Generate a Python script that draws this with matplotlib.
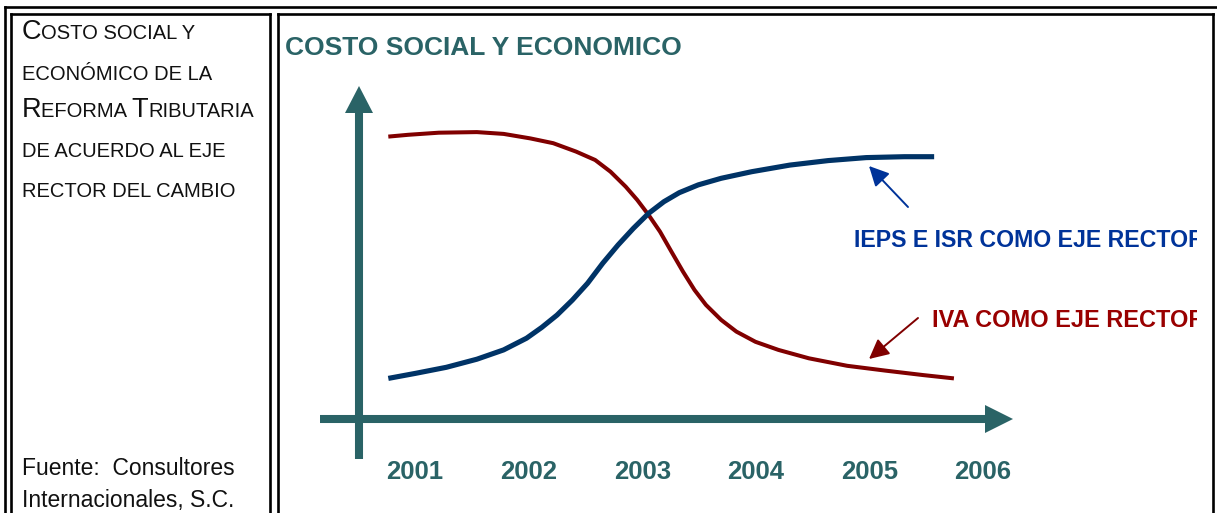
import matplotlib
matplotlib.use('Agg')
import matplotlib.pyplot as plt
from matplotlib.patches import Polygon
from matplotlib import font_manager

# ---------------- data ----------------
years = [2001, 2002, 2003, 2004, 2005, 2006]
year_labels = ['2001', '2002', '2003', '2004', '2005', '2006']

# IEPS e ISR como eje rector (rising curve), index values
ieps_x = [2000.765, 2001.007, 2001.276, 2001.545, 2001.780, 2001.982, 2002.116, 2002.250,
          2002.385, 2002.519, 2002.653, 2002.788, 2002.922, 2003.056, 2003.191, 2003.326,
          2003.493, 2003.695, 2003.964, 2004.299, 2004.636, 2004.972, 2005.308, 2005.570]
ieps_y = [13.2, 14.9, 16.9, 19.6, 22.7, 26.6, 30.2, 34.3,
          39.3, 44.9, 51.6, 57.7, 63.2, 68.2, 72.1, 75.1,
          77.7, 79.9, 82.1, 84.3, 85.8, 86.8, 87.1, 87.1]

# IVA como eje rector (falling curve)
iva_x = [2000.765, 2000.940, 2001.209, 2001.545, 2001.780, 2002.015, 2002.217, 2002.418,
         2002.586, 2002.721, 2002.855, 2002.956, 2003.056, 2003.157, 2003.258, 2003.359,
         2003.460, 2003.561, 2003.695, 2003.829, 2003.997, 2004.199, 2004.467, 2004.804,
         2005.140, 2005.475, 2005.744]
iva_y = [93.8, 94.4, 95.1, 95.3, 94.7, 93.2, 91.6, 88.8,
         86.0, 82.1, 77.1, 72.7, 67.7, 62.1, 55.4, 48.8,
         42.7, 37.7, 32.7, 28.8, 25.4, 22.7, 19.9, 17.4,
         15.8, 14.3, 13.2]

title = 'COSTO SOCIAL Y ECONOMICO'
label_ieps = 'IEPS E ISR COMO EJE RECTOR'
label_iva = 'IVA COMO EJE RECTOR'

side_lines = [
    [('C', 'big'), ('OSTO SOCIAL Y', 'small')],
    [('ECONÓMICO DE LA', 'small')],
    [('R', 'big'), ('EFORMA ', 'small'), ('T', 'big'), ('RIBUTARIA', 'small')],
    [('DE ACUERDO AL EJE', 'small')],
    [('RECTOR DEL CAMBIO', 'small')],
]
source_lines = ['Fuente:  Consultores', 'Internacionales, S.C.']

# ---------------- style ----------------
TEAL = '#2A6366'
NAVY = '#003366'
MAROON = '#800000'
BLUE_TXT = '#003399'
RED_TXT = '#990000'

available = {f.name for f in font_manager.fontManager.ttflist}
HAS_NARROW = 'Liberation Sans Narrow' in available
NARROW = ['Liberation Sans Narrow', 'Liberation Sans', 'DejaVu Sans'] if HAS_NARROW else ['Liberation Sans', 'DejaVu Sans']
SANS = ['Liberation Sans', 'DejaVu Sans']
SMALL = 16.5 if HAS_NARROW else 14.5
BIG = 21 if HAS_NARROW else 19.5

W, H = 1217, 513
DPI = 100
fig = plt.figure(figsize=(W / DPI, H / DPI), dpi=DPI)
fig.patch.set_facecolor('white')

# pixel overlay axes for frame/decoration
pax = fig.add_axes([0, 0, 1, 1])
pax.set_xlim(0, W)
pax.set_ylim(H, 0)
pax.axis('off')

# data axes
ax = fig.add_axes([0, 0, 1, 1])
ax.set_xlim(1997.3468, 2008.0599)
ax.set_ylim(-31.667, 139.333)
ax.axis('off')
ax.patch.set_alpha(0)

# clipping axes for the right-hand labels (text cut at the panel edge)
lax = fig.add_axes([0, 0, 1197 / W, 1])
lax.set_xlim(0, 1197)
lax.set_ylim(H, 0)
lax.axis('off')
lax.patch.set_alpha(0)

# ---------------- frame (double borders) ----------------
blw = 1.9
def seg(x0, y0, x1, y1):
    pax.plot([x0, x1], [y0, y1], color='black', lw=blw, solid_capstyle='projecting')

seg(5, 6.5, W + 5, 6.5)          # outer top
seg(5, 6.5, 5, H + 5)            # outer left
seg(10.5, 14, 269.5, 14)         # left cell top
seg(10.5, 14, 10.5, H + 5)       # left cell left
seg(269.5, 14, 269.5, H + 5)     # left cell right
seg(277.5, 14, 1213, 14)         # right cell top
seg(277.5, 14, 277.5, H + 5)     # right cell left
seg(1213, 14, 1213, H + 5)       # right cell right

# ---------------- chart axes arrows ----------------
shaft = 5.8
pax.plot([359, 359], [459, 111], color=TEAL, lw=shaft, solid_capstyle='butt')
pax.add_patch(Polygon([(345, 113), (373, 113), (359, 86)], closed=True, color=TEAL, lw=0))
pax.plot([320, 987], [419, 419], color=TEAL, lw=shaft, solid_capstyle='butt')
pax.add_patch(Polygon([(985, 405), (985, 433), (1013, 419)], closed=True, color=TEAL, lw=0))

# ---------------- curves ----------------
ax.plot(iva_x, iva_y, color=MAROON, lw=2.9, solid_capstyle='butt', solid_joinstyle='round')
ax.plot(ieps_x, ieps_y, color=NAVY, lw=3.7, solid_capstyle='butt', solid_joinstyle='round')

# year labels
for yv, lab in zip(years, year_labels):
    ax.text(yv, -20.3, lab, ha='center', va='baseline', fontsize=18.5,
            fontweight='bold', color=TEAL, family=SANS)

# title
pax.text(285, 55, title, ha='left', va='baseline', fontsize=19, fontweight='bold',
         color=TEAL, family=SANS)

# pointer arrows
pax.annotate('', xy=(869, 166), xytext=(908, 207),
             arrowprops=dict(arrowstyle='-|>,head_length=0.6,head_width=0.3',
                             color=BLUE_TXT, lw=1.4, mutation_scale=20, shrinkA=0, shrinkB=0))
pax.annotate('', xy=(869, 359), xytext=(918, 318),
             arrowprops=dict(arrowstyle='-|>,head_length=0.6,head_width=0.3',
                             color=MAROON, lw=1.4, mutation_scale=20, shrinkA=0, shrinkB=0))

# labels (clipped at the right edge)
lax.text(854, 247, label_ieps, ha='left', va='baseline', fontsize=16.7, fontweight='bold',
         color=BLUE_TXT, family=SANS, clip_on=True)
lax.text(932, 327, label_iva, ha='left', va='baseline', fontsize=16.9, fontweight='bold',
         color=RED_TXT, family=SANS, clip_on=True)

# ---------------- left panel text ----------------
renderer = fig.canvas.get_renderer()
baselines = [39, 80, 117, 157, 197]
for runs, yb in zip(side_lines, baselines):
    x = 21.5
    for s, kind in runs:
        t = pax.text(x, yb, s, ha='left', va='baseline',
                     fontsize=BIG if kind == 'big' else SMALL,
                     color='#111111', family=NARROW)
        bb = t.get_window_extent(renderer=renderer)
        x += bb.width * (W / fig.bbox.width)

pax.text(21.5, 475, source_lines[0], ha='left', va='baseline', fontsize=16.5,
         color='#111111', family=SANS)
pax.text(21.5, 507, source_lines[1], ha='left', va='baseline', fontsize=16.5,
         color='#111111', family=SANS)

fig.savefig('out.png', dpi=DPI, facecolor='white')
